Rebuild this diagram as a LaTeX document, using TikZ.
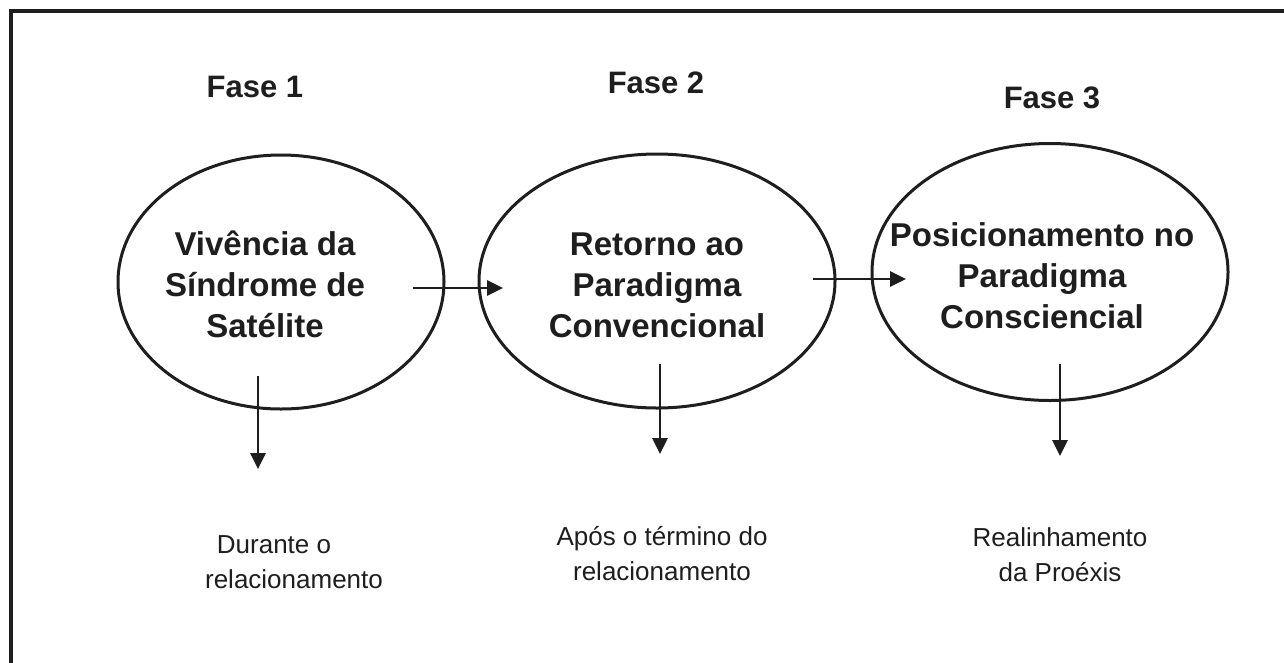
\documentclass[tikz,border=0pt]{standalone}
\usepackage{fontspec}
\setmainfont{Liberation Sans}
\usetikzlibrary{shapes.geometric,arrows.meta}
\definecolor{ink}{HTML}{1E1E1E}
\tikzset{
  frameline/.style={line width=3.2pt, draw=ink},
  phase/.style={ellipse, draw=ink, line width=3pt, inner sep=0pt},
  phasetext/.style={align=center, text=ink, font=\fontsize{33}{41}\selectfont\bfseries, inner sep=0pt},
  fasetext/.style={text=ink, font=\fontsize{31}{36}\selectfont\bfseries, inner sep=0pt},
  notetext/.style={align=center, text=ink, font=\fontsize{26}{35}\selectfont, inner sep=0pt},
  link/.style={draw=ink, line width=2.8pt, -{Triangle[length=16pt,width=15pt]}}
}
\begin{document}
\begin{tikzpicture}[x=1pt,y=-1pt]
\useasboundingbox (0,0) rectangle (1284,662);
\fill[white] (0,0) rectangle (1284,662);
% frame (top and left edges only visible)
\coordinate (fa) at (11,664);
\coordinate (fb) at (11,11);
\coordinate (fc) at (1286,11);
\draw[frameline] (fa) -- (fb) -- (fc);

% phase titles
\node[fasetext] (f1) at (255,87) {Fase 1};
\node[fasetext] (f2) at (656,83) {Fase 2};
\node[fasetext] (f3) at (1052,98) {Fase 3};

% ellipses
\node[phase, minimum width=326pt, minimum height=254pt] (e1) at (281,282) {};
\node[phase, minimum width=356pt, minimum height=254pt] (e2) at (657,281) {};
\node[phase, minimum width=356pt, minimum height=257pt] (e3) at (1050,272) {};

\node[phasetext] (t1) at (265,284) {Vivência da\\Síndrome de\\Satélite};
\node[phasetext] (t2) at (657,285) {Retorno ao\\Paradigma\\Convencional};
\node[phasetext] (t3) at (1042,276) {Posicionamento no\\Paradigma\\Consciencial};

% notes
\node[notetext] (n1) at (294,562) {Durante o\hspace*{40pt}\\relacionamento};
\node[notetext] (n2) at (662,554) {Após o término do\\relacionamento};
\node[notetext] (n3) at (1060,555) {Realinhamento\\da Proéxis};

% connector end points
\coordinate (h1s) at (413,288);
\coordinate (h1e) at (503,288);
\coordinate (h2s) at (813,279);
\coordinate (h2e) at (906,279);
\coordinate (v1s) at (258,376);
\coordinate (v1e) at (258,469);
\coordinate (v2s) at (660,364);
\coordinate (v2e) at (660,454);
\coordinate (v3s) at (1060,364);
\coordinate (v3e) at (1060,456);

\draw[link] (h1s) -- (h1e);
\draw[link] (h2s) -- (h2e);
\draw[link] (v1s) -- (v1e);
\draw[link] (v2s) -- (v2e);
\draw[link] (v3s) -- (v3e);
\end{tikzpicture}
\end{document}
